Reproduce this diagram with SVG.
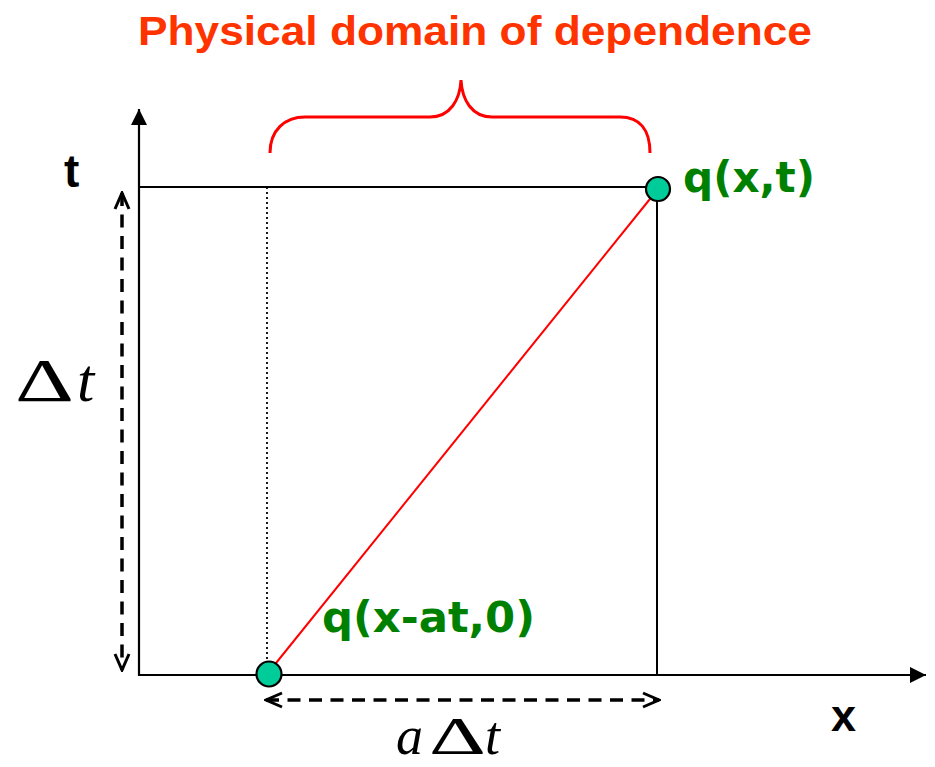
<svg xmlns="http://www.w3.org/2000/svg" width="935" height="767" viewBox="0 0 935 767">
<defs>
<style>
.ax{stroke:#000;stroke-width:2.2;fill:none}
.thin{stroke:#000;stroke-width:2;fill:none}
.dash{stroke:#000;stroke-width:3.5;stroke-dasharray:13 8.5;fill:none}
.lbl{font-family:"DejaVu Sans","Liberation Sans",sans-serif;font-weight:bold;fill:#008000}
.axl{font-family:"Liberation Sans","DejaVu Sans",sans-serif;font-weight:bold;fill:#000}
.math{font-family:"Liberation Serif","DejaVu Serif",serif;fill:#000}
.pt{fill:#00CC99;stroke:#000;stroke-width:2.2}
</style>
<marker id="big" viewBox="0 0 16 16" refX="16" refY="8" markerWidth="16" markerHeight="16" markerUnits="userSpaceOnUse" orient="auto"><path d="M0,0 L16,8 L0,16 Z" fill="#000"/></marker>
<marker id="open" viewBox="0 0 20 18" refX="18" refY="9" markerWidth="20" markerHeight="18" markerUnits="userSpaceOnUse" orient="auto-start-reverse"><path d="M2,2 L18,9 L2,16" fill="none" stroke="#000" stroke-width="3"/></marker>
</defs>
<rect width="935" height="767" fill="#fff"/>
<text x="138" y="45" font-family="'Liberation Sans','DejaVu Sans',sans-serif" font-weight="bold" font-size="41" fill="#FF3300" textLength="674" lengthAdjust="spacingAndGlyphs">Physical domain of dependence</text>
<g id="axes">
<line class="ax" x1="139" y1="676" x2="139" y2="109" marker-end="url(#big)"/>
<line class="ax" x1="138" y1="675" x2="926" y2="675" marker-end="url(#big)"/>
<text class="axl" x="64" y="187" font-size="46">t</text>
<text class="axl" x="831" y="731" font-size="45">x</text>
</g>
<g id="connectors">
<line class="thin" x1="139" y1="187" x2="657" y2="187"/>
<line class="thin" x1="657" y1="187" x2="657" y2="675"/>
<line stroke="#000" stroke-width="1.8" stroke-dasharray="2 3" x1="267" y1="187" x2="267" y2="672"/>
<line stroke="#FF0000" stroke-width="2" x1="268" y1="673" x2="658" y2="189"/>
<path d="M270,153 C270,130 285,117 305,117 L430,117 C450,117 460,100 461,80 C462,100 472,117 492,117 L620,117 C640,117 650,130 650,153" fill="none" stroke="#FF0000" stroke-width="3"/>
<line class="dash" x1="122" y1="193" x2="122" y2="670" marker-start="url(#open)" marker-end="url(#open)"/>
<line class="dash" x1="266" y1="700" x2="659" y2="700" marker-start="url(#open)" marker-end="url(#open)"/>
<text class="math" x="15" y="401" font-size="62" textLength="59" lengthAdjust="spacingAndGlyphs">Δ</text>
<text class="math" x="77" y="401" font-size="62" font-style="italic">t</text>
<text class="math" x="396" y="754" font-size="54" font-style="italic">a</text>
<text class="math" x="429" y="754" font-size="52" textLength="57" lengthAdjust="spacingAndGlyphs">Δ</text>
<text class="math" x="485" y="754" font-size="54" font-style="italic">t</text>
</g>
<g id="node-qxt">
<circle class="pt" cx="658" cy="189" r="12"/>
<text class="lbl" x="683" y="192" font-size="42" textLength="132" lengthAdjust="spacingAndGlyphs">q(x,t)</text>
</g>
<g id="node-qxat0">
<circle class="pt" cx="269" cy="674" r="12.5"/>
<text class="lbl" x="322" y="632" font-size="42" textLength="213" lengthAdjust="spacingAndGlyphs">q(x-at,0)</text>
</g>
</svg>
